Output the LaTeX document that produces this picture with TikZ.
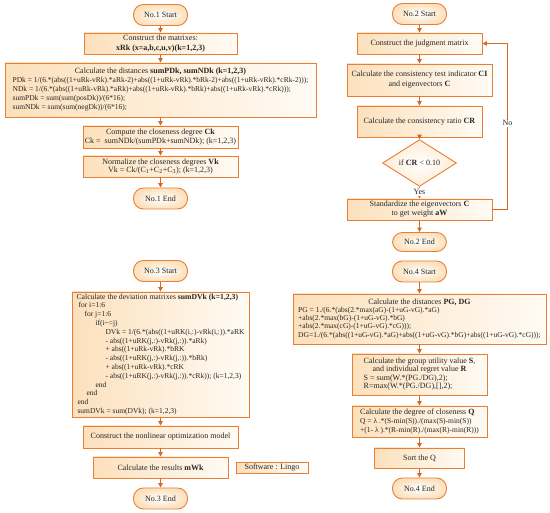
\documentclass[tikz,border=0pt]{standalone}
\usepackage{fontspec}
\setmainfont{Liberation Serif}
\usetikzlibrary{shapes.geometric,arrows.meta}
\definecolor{orb}{RGB}{232,127,52}
\definecolor{ora}{RGB}{214,104,34}
\definecolor{peach}{RGB}{252,224,188}
\definecolor{cream}{RGB}{255,251,244}
\newcommand\hd[1]{{\fontsize{8}{9}\selectfont #1}}
\newcommand\hdb[1]{{\fontsize{7.7}{9}\selectfont #1}}
\tikzset{
  base/.style={draw=orb, line width=0.9pt, inner sep=0pt, text=black!85, font=\fontsize{8}{9}\selectfont},
  proc/.style={base, rectangle, left color=peach, right color=cream},
  term/.style={base, rectangle, rounded corners=10pt, inner color=white, outer color=peach, minimum width=54pt, minimum height=21pt},
  dec/.style={base, diamond, inner color=white, outer color=peach!60},
  arr/.style={draw=ora, line width=0.9pt, -{Triangle[length=4.5pt,width=4.5pt]}},
  lbl/.style={fill=white, inner sep=1pt, text=black!85, font=\fontsize{8}{9}\selectfont},
  sz/.style 2 args={minimum width=#1pt, minimum height=#2pt},
  bs/.style={font=\fontsize{8}{#1}\selectfont},
  fs/.style={font=\fontsize{7.5}{#1}\selectfont},
}
\begin{document}
\begin{tikzpicture}[x=1pt,y=-1pt]
\useasboundingbox (0,0) rectangle (550,513);
% ---------- Panel 1 ----------
\node[term] (s1) at (160.5,15) {No.1 Start};
\node[proc, sz={153}{21}, align=center, bs=9.5] (c1) at (160.5,43.5) {Construct the matrixes:\\ \textbf{xRk (x=a,b,c,u,v)(k=1,2,3)}};
\node[proc, sz={311}{54}, fs=9] (d1) at (160.5,90) {\begin{tabular}{@{}l@{}}
\multicolumn{1}{@{}c@{}}{\hd{Calculate the distances \textbf{sumPDk, sumNDk (k=1,2,3)}}}\\
PDk = 1/(6.*(abs((1+uRk-vRk).*aRk-2)+abs((1+uRk-vRk).*bRk-2)+abs((1+uRk-vRk).*cRk-2)));\\
NDk = 1/(6.*(abs((1+uRk-vRk).*aRk)+abs((1+uRk-vRk).*bRk)+abs((1+uRk-vRk).*cRk)));\\
sumPDk = sum(sum(posDk))/(6*16);\\
sumNDk = sum(sum(negDk))/(6*16);
\end{tabular}};
\node[proc, sz={155}{22}, align=center, bs=9] (cmp1) at (160.5,137) {Compute the closeness degree \textbf{Ck}\\ Ck =\ \ sumNDk/(sumPDk+sumNDk); (k=1,2,3)};
\node[proc, sz={155}{21}, align=center, bs=8.5] (n1) at (160.5,166.5) {Normalize the closeness degrees \textbf{Vk}\\ Vk = Ck/(C\textsubscript{1}+C\textsubscript{2}+C\textsubscript{3}); (k=1,2,3)};
\node[term] (e1) at (160.5,198.5) {No.1 End};
\draw[arr] (s1) -- (c1);
\draw[arr] (c1) -- (d1);
\draw[arr] (d1) -- (cmp1);
\draw[arr] (cmp1) -- (n1);
\draw[arr] (n1) -- (e1);
% ---------- Panel 2 ----------
\node[term] (s2) at (419.5,14) {No.2 Start};
\node[proc, sz={125}{21}] (jm) at (419.5,43.5) {Construct the judgment matrix};
\node[proc, sz={145}{32}, align=center, bs=10] (ci) at (419.5,80) {Calculate the consistency test indicator \textbf{CI}\\ and eigenvectors \textbf{C}};
\node[proc, sz={125}{31}] (cr) at (419.5,121.5) {Calculate the consistency ratio \textbf{CR}};
\node[dec, minimum width=74pt, minimum height=30pt] (dm) at (419.5,163) {if \textbf{CR} < 0.10};
\node[proc, sz={145}{21}, align=center, bs=9] (st) at (419.5,209.5) {Standardize the eigenvectors \textbf{C}\\ to get weight \textbf{aW}};
\node[term, minimum height=19pt] (e2) at (419.5,242) {No.2 End};
\draw[arr] (s2) -- (jm);
\draw[arr] (jm) -- (ci);
\draw[arr] (ci) -- (cr);
\draw[arr] (cr) -- (dm);
\draw[arr] (dm) -- (st) node[lbl, pos=0.45] {Yes};
\draw[arr] (st) -- (e2);
\draw[arr] (st.east) -- ++(15,0) |- (jm.east) node[lbl, pos=0.26] {No};
% ---------- Panel 3 ----------
\node[term] (s3) at (160.5,271) {No.3 Start};
\node[proc, sz={177}{125}, fs=8.8] (dv) at (160.5,354.5) {\begin{tabular}{@{}l@{}}
\hdb{Calculate the deviation matrixes \textbf{sumDVk (k=1,2,3)}}\\
\hspace*{2pt}for i=1:6\\
\hspace*{8pt}for j=1:6\\
\hspace*{19pt}if(i\textasciitilde=j)\\
\hspace*{29pt}DVk = 1/(6.*(abs((1+uRK(i,:)-vRk(i,:)).*aRK\\
\hspace*{29pt}- abs((1+uRK(j,:)-vRk(j,:)).*aRk)\\
\hspace*{29pt}+ abs((1+uRk-vRk).*bRK\\
\hspace*{29pt}- abs((1+uRK(j,:)-vRk(j,:)).*bRk)\\
\hspace*{29pt}+ abs((1+uRk-vRk).*cRK\\
\hspace*{29pt}- abs((1+uRK(j,:)-vRk(j,:)).*cRk)); (k=1,2,3)\\
\hspace*{19pt}end\\
\hspace*{10pt}end\\
\hspace*{1pt}end\\
\hspace*{1pt}sumDVk = sum(DVk); (k=1,2,3)
\end{tabular}};
\node[proc, sz={155}{22}] (nl) at (160.5,437) {Construct the nonlinear optimization model};
\node[proc, sz={135}{21}] (mw) at (160.5,467.5) {Calculate the results \textbf{mWk}};
\node[proc, sz={72}{11}, line width=0.8pt] (sw) at (272,468) {Software : Lingo};
\node[term] (e3) at (160.5,498.5) {No.3 End};
\draw[arr] (s3) -- (dv);
\draw[arr] (dv) -- (nl);
\draw[arr] (nl) -- (mw);
\draw[arr] (mw) -- (e3);
% ---------- Panel 4 ----------
\node[term] (s4) at (419.5,271.5) {No.4 Start};
\node[proc, sz={253}{50}, fs=8.3] (pg) at (419.5,319) {\begin{tabular}{@{}l@{}}
\multicolumn{1}{@{}c@{}}{\hd{Calculate the distances \textbf{PG, DG}}}\\
PG = 1./(6.*(abs(2.*max(aG)-(1+uG-vG).*aG)\\
+abs(2.*max(bG)-(1+uG-vG).*bG)\\
+abs(2.*max(cG)-(1+uG-vG).*cG)));\\
DG=1./(6.*(abs((1+uG-vG).*aG)+abs((1+uG-vG).*bG)+abs((1+uG-vG).*cG)));
\end{tabular}};
\node[proc, sz={135}{41}, bs=8.4] (gu) at (419.5,374.5) {\begin{tabular}{@{}l@{}}
\multicolumn{1}{@{}c@{}}{Calculate the group utility value \textbf{S},}\\
\multicolumn{1}{@{}c@{}}{and individual regret value \textbf{R}}\\
S = sum(W.*(PG./DG),2);\\
R=max(W.*(PG./DG),[],2);
\end{tabular}};
\node[proc, sz={135}{31}, fs=8.8] (cq) at (419.5,421.5) {\begin{tabular}{@{}l@{}}
\hd{Calculate the degree of closeness \textbf{Q}}\\
Q = λ .*(S-min(S))./(max(S)-min(S))\\
+(1- λ ).*(R-min(R)./(max(R)-min(R)))
\end{tabular}};
\node[proc, sz={90}{20}] (sq) at (419.5,458) {Sort the Q};
\node[term] (e4) at (419.5,488.5) {No.4 End};
\draw[arr] (s4) -- (pg);
\draw[arr] (pg) -- (gu);
\draw[arr] (gu) -- (cq);
\draw[arr] (cq) -- (sq);
\draw[arr] (sq) -- (e4);
\end{tikzpicture}
\end{document}
